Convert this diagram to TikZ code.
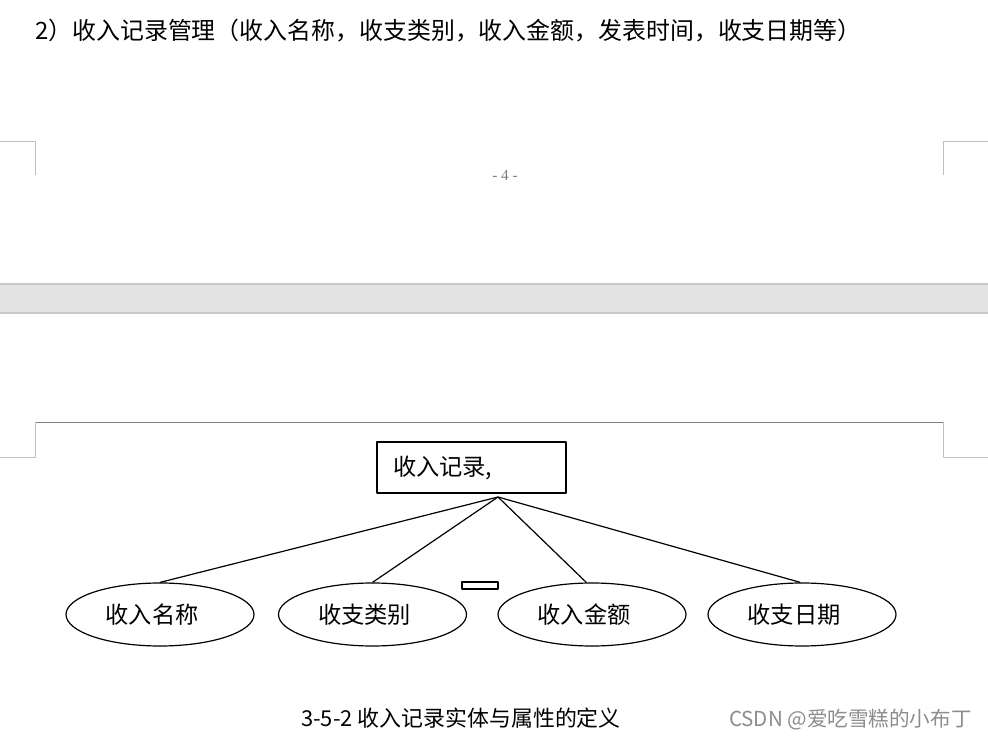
\documentclass[tikz,border=0pt]{standalone}
\usepackage{fontspec}
\usetikzlibrary{shapes.geometric}
\newfontfamily\cjk{Noto Sans CJK SC}
\newfontfamily\pnumfont{Liberation Serif}
\definecolor{markgray}{HTML}{C0C0C0}
\definecolor{edgegray}{HTML}{808080}
\definecolor{bandgray}{HTML}{E3E3E3}
\definecolor{bandline}{HTML}{C8C8C8}
\definecolor{pagenum}{HTML}{8A7C6C}
\tikzset{
  entity/.style={draw=black,line width=1.6bp,rectangle,minimum width=141.75bp,minimum height=38.25bp,
    align=left,text width=117.75bp,inner sep=0pt,font=\cjk\fontsize{17.5}{20}\selectfont},
  attr/.style={draw=black,line width=0.9bp,ellipse,minimum width=141bp,minimum height=47.25bp,
    inner sep=0pt,font=\cjk\fontsize{17.5}{20}\selectfont},
  link/.style={line width=0.9bp},
  corner/.style={draw=markgray,line width=0.6bp},
}
\begin{document}
\begin{tikzpicture}[>=latex,line join=bevel,]
    \useasboundingbox (0bp,0bp) rectangle (741bp,556.5bp);
    %% upper page
    \node (title) at (26.25bp,533.25bp) [anchor=west,inner sep=0pt,font=\cjk\fontsize{18}{21}\selectfont] {2）收入记录管理（收入名称，收支类别，收入金额，发表时间，收支日期等）};
    \draw [corner] (0bp,450.75bp) -- (26.25bp,450.75bp) -- (26.25bp,425.25bp);
    \draw [corner] (741bp,450.75bp) -- (707.25bp,450.75bp) -- (707.25bp,425.25bp);
    \node (pnum) at (378.75bp,425.25bp) [text=pagenum,inner sep=0pt,font=\pnumfont\fontsize{11.5}{13}\selectfont] {- 4 -};
    %% gap between pages
    \fill [bandgray] (0bp,321.75bp) rectangle (741bp,343.5bp);
    \draw [bandline,line width=0.8bp] (0bp,343.5bp) -- (741bp,343.5bp);
    \draw [bandline,line width=0.8bp] (0bp,321.75bp) -- (741bp,321.75bp);
    %% lower page
    \draw [draw=edgegray,line width=0.7bp] (26.25bp,240bp) -- (707.25bp,240bp);
    \draw [corner] (0bp,213.75bp) -- (26.25bp,213.75bp) -- (26.25bp,240bp);
    \draw [corner] (741bp,213.75bp) -- (707.25bp,213.75bp) -- (707.25bp,240bp);
    %%
    \node (rec) at (353.625bp,205.875bp) [entity] {收入记录,};
    \coordinate (hub) at (373.5bp,183.75bp);
    \node (name) at (120bp,95.625bp) [attr] {收入名称\kern12bp};
    \node (type) at (279.375bp,95.625bp) [attr] {收支类别\kern12bp};
    \node (amount) at (444bp,95.625bp) [attr] {收入金额\kern12bp};
    \node (date) at (601.5bp,95.625bp) [attr] {收支日期\kern12bp};
    \draw [link] (hub) -- (name.north);
    \draw [link] (hub) -- (type.north);
    \draw [link] (hub) -- (amount.100);
    \draw [link] (hub) -- (date.93);
    \draw [line width=1.2bp] (346.5bp,114.75bp) rectangle (373.5bp,120bp);
    %
    \node (cap) at (345.75bp,18bp) [inner sep=0pt,font=\cjk\fontsize{16.5}{19}\selectfont] {3-5-2 收入记录实体与属性的定义};
    \node (mark) at (729bp,16.5bp) [anchor=east,inner sep=0pt,text=black!45,font=\cjk\fontsize{15.5}{18}\selectfont] {CSDN @爱吃雪糕的小布丁};
    %
\end{tikzpicture}
\end{document}
